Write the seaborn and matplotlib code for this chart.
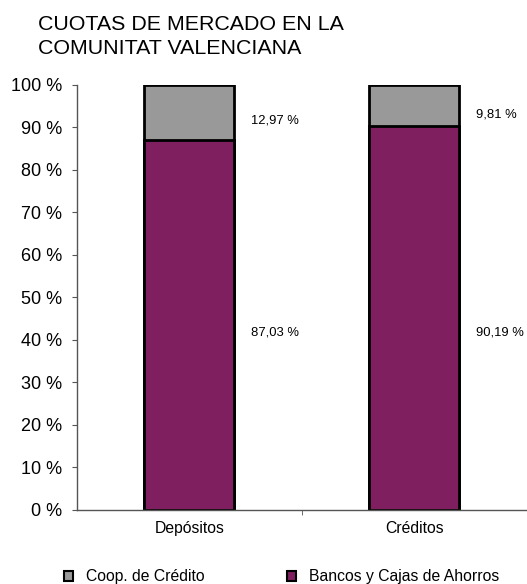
import matplotlib
matplotlib.use("Agg")
import matplotlib.pyplot as plt
import seaborn as sns
import pandas as pd
from matplotlib.patches import Patch
from matplotlib.ticker import FixedLocator

sns.set_style("white")
plt.rcParams['font.family'] = ['Liberation Sans', 'DejaVu Sans']
plt.rcParams['text.color'] = 'black'
plt.rcParams['xtick.labelcolor'] = 'black'
plt.rcParams['ytick.labelcolor'] = 'black'

# data
categories = ["Depósitos", "Créditos"]
coop = [12.97, 9.81]
bancos = [87.03, 90.19]
coop_labels = ["12,97 %", "9,81 %"]
bancos_labels = ["87,03 %", "90,19 %"]
series_names = ["Coop. de Crédito", "Bancos y Cajas de Ahorros"]

purple = "#7F1F5F"
gray = "#999999"

df = pd.DataFrame({"cat": categories, "coop": coop, "bancos": bancos})
df["total"] = df["coop"] + df["bancos"]

fig = plt.figure(figsize=(5.27, 5.84), dpi=100)
ax = fig.add_axes([0.146, 0.127, 0.854, 0.728])

# stacked bars: total (gray) then bottom part (purple) on top of it
sns.barplot(data=df, x="cat", y="total", color=gray, width=0.4,
            edgecolor="black", linewidth=2, saturation=1, ax=ax)
sns.barplot(data=df, x="cat", y="bancos", color=purple, width=0.4,
            edgecolor="black", linewidth=2, saturation=1, ax=ax)

# value labels (placed like the excel data labels)
coop_y = [91.5, 93.1]
for i in range(len(categories)):
    ax.text(i + 0.275, coop_y[i], coop_labels[i], fontsize=9.4,
            va="center", ha="left")
    ax.text(i + 0.275, 41.6, bancos_labels[i], fontsize=9.4,
            va="center", ha="left")

ax.set_xlim(-0.5, 1.5)
ax.set_ylim(0, 100)
ax.set_yticks(range(0, 101, 10))
ax.set_yticklabels([f"{v} %" for v in range(0, 101, 10)], fontsize=13)
ax.set_xticks(range(len(categories)))
ax.set_xticklabels(categories, fontsize=11.3)
ax.tick_params(axis="x", length=0, pad=8)
ax.xaxis.set_minor_locator(FixedLocator([0.5]))
ax.tick_params(axis="x", which="minor", length=3.6, color="#555555",
               direction="out", bottom=True)
ax.tick_params(axis="y", length=3.6, color="#555555", direction="out",
               left=True, pad=7)
ax.set_xlabel("")
ax.set_ylabel("")

for s in ["top", "right"]:
    ax.spines[s].set_visible(False)
for s in ["left", "bottom"]:
    ax.spines[s].set_color("#555555")
    ax.spines[s].set_linewidth(1)

fig.text(38 / 527, 1 - 29.7 / 584, "CUOTAS DE MERCADO EN LA",
         fontsize=15.4, va="baseline", ha="left")
fig.text(38 / 527, 1 - 53.7 / 584, "COMUNITAT VALENCIANA",
         fontsize=15.4, va="baseline", ha="left")

handles = [Patch(facecolor=gray, edgecolor="black", linewidth=1.5),
           Patch(facecolor=purple, edgecolor="black", linewidth=1.5)]
fig.legend(handles, series_names, loc="center left",
           bbox_to_anchor=(64 / 527, 1 - 577 / 584),
           ncol=2, frameon=False, fontsize=11.3, handlelength=0.57,
           handleheight=0.57, columnspacing=5.3, handletextpad=0.8,
           borderpad=0, borderaxespad=0)

fig.savefig("out.png", dpi=100)
